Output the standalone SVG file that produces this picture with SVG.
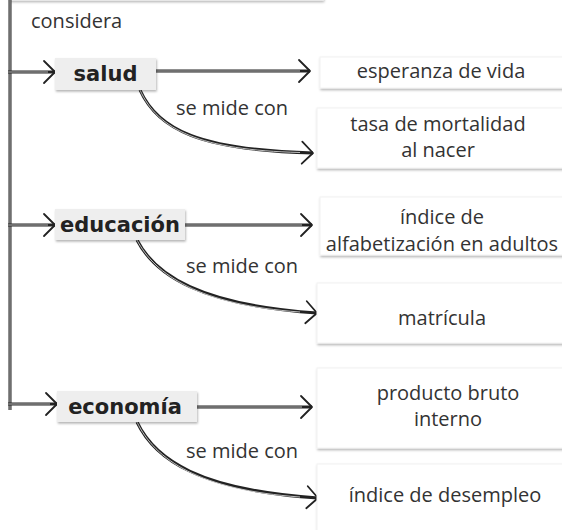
<svg xmlns="http://www.w3.org/2000/svg" width="562" height="530" viewBox="0 0 562 530">
<defs>
<filter id="sh" x="-10%" y="-20%" width="120%" height="150%">
<feDropShadow dx="0.8" dy="1.6" stdDeviation="1" flood-color="#000" flood-opacity="0.3"/>
</filter>
<marker id="ah" markerUnits="userSpaceOnUse" markerWidth="30" markerHeight="30" viewBox="-15 -15 30 30" refX="0" refY="0" orient="auto">
<path d="M-11,-11 L0,0 L-11,11" fill="none" stroke="#222" stroke-width="1.8" stroke-linecap="round" stroke-linejoin="round"/>
</marker>
<style>
.box{fill:#fff;stroke:#f2f2f2;stroke-width:1;filter:url(#sh)}
.nbox{fill:#eeeeee;filter:url(#sh)}
.t{font-family:"Open Sans","Noto Sans",sans-serif;font-size:20px;fill:#333;text-anchor:middle}
.tl{font-family:"Open Sans","Noto Sans",sans-serif;font-size:20px;fill:#333}
.n{font-family:"DejaVu Sans",sans-serif;font-weight:bold;font-size:21px;fill:#222;text-anchor:middle}
.o{fill:none;stroke:#222;stroke-width:3}
.i{fill:none;stroke:#cfcfcf;stroke-width:0.9}
</style>
</defs>

<g id="top-box"><rect x="10" y="-40" width="313" height="40" class="box"/></g>

<g id="connectors">
<path class="o" d="M10,0 L10,410"/>
<path class="i" d="M10,0 L10,410"/>
<path class="o" d="M8,72 L55,72" marker-end="url(#ah)"/>
<path class="i" d="M8,72 L48,72"/>
<path class="o" d="M8,225 L55,225" marker-end="url(#ah)"/>
<path class="i" d="M8,225 L48,225"/>
<path class="o" d="M8,404 L57,404" marker-end="url(#ah)"/>
<path class="i" d="M8,404 L50,404"/>

<path class="o" d="M156,71 L310,71" marker-end="url(#ah)"/>
<path class="i" d="M156,71 L300,71"/>
<path class="o" d="M185,225 L312,225" marker-end="url(#ah)"/>
<path class="i" d="M185,225 L302,225"/>
<path class="o" d="M197,407 L312,407" marker-end="url(#ah)"/>
<path class="i" d="M197,407 L302,407"/>

<path class="o" d="M140,90 C158,130 200,150 313,153" marker-end="url(#ah)"/>
<path class="i" d="M140,90 C158,130 200,150 300,152.5"/>
<path class="o" d="M137,240 C155,275 200,305 317,313" marker-end="url(#ah)"/>
<path class="i" d="M137,240 C155,275 200,305 300,312"/>
<path class="o" d="M137,422 C155,460 200,490 318,498" marker-end="url(#ah)"/>
<path class="i" d="M137,422 C155,460 200,490 300,497"/>

<text class="tl" x="31" y="28">considera</text>
<text class="tl" x="176" y="115">se mide con</text>
<text class="tl" x="186" y="273">se mide con</text>
<text class="tl" x="186" y="458">se mide con</text>
</g>

<g id="salud"><rect x="55" y="58" width="101" height="32" class="nbox"/><text class="n" x="105.5" y="81">salud</text></g>
<g id="educacion"><rect x="55" y="209" width="130" height="31" class="nbox"/><text class="n" x="120" y="232">educación</text></g>
<g id="economia"><rect x="57" y="391" width="140" height="31" class="nbox"/><text class="n" x="125" y="414">economía</text></g>

<g id="esperanza"><rect x="320" y="57" width="250" height="31" class="box"/><text class="t" x="441" y="78">esperanza de vida</text></g>
<g id="mortalidad"><rect x="317" y="108" width="253" height="60" class="box"/><text class="t" x="438" y="131">tasa de mortalidad</text><text class="t" x="438" y="157">al nacer</text></g>
<g id="alfabetizacion"><rect x="320" y="197" width="250" height="58" class="box"/><text class="t" x="442" y="224">índice de</text><text class="t" x="442" y="251">alfabetización en adultos</text></g>
<g id="matricula"><rect x="317" y="283" width="253" height="60" class="box"/><text class="t" x="442" y="325">matrícula</text></g>
<g id="pbi"><rect x="317" y="368" width="253" height="80" class="box"/><text class="t" x="448" y="400">producto bruto</text><text class="t" x="448" y="426">interno</text></g>
<g id="desempleo"><rect x="317" y="464" width="253" height="80" class="box"/><text class="t" x="445" y="502">índice de desempleo</text></g>
</svg>
